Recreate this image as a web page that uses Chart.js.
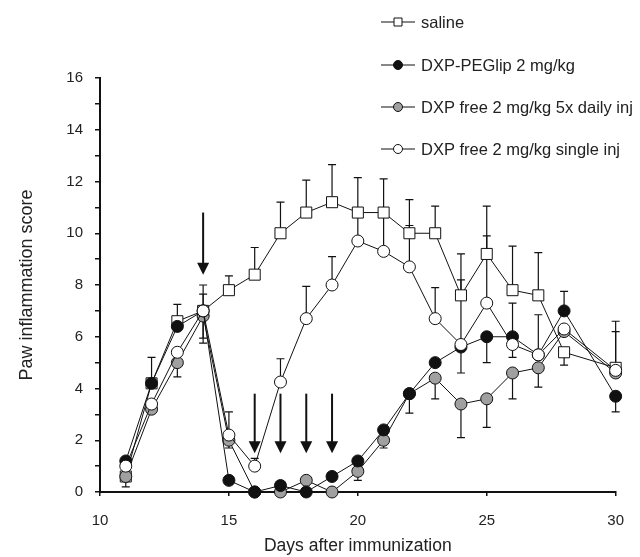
<!DOCTYPE html>
<html>
<head>
<meta charset="utf-8">
<script src="https://cdn.jsdelivr.net/npm/chart.js@4.4.1/dist/chart.umd.min.js"></script>
<style>
  html, body { margin: 0; padding: 0; background: #fff; }
  canvas { display: block; }
</style>
</head>
<body>
<canvas id="paw-chart" width="640" height="557"></canvas>
<script>
// Jours après immunisation
const days = [11, 12, 13, 14, 15, 16, 17, 18, 19, 20, 21, 22, 23, 24, 25, 26, 27, 28, 30];

// Séries (score moyen)
const saline = [0.6, 4.2, 6.6, 7.0, 7.8, 8.4, 10.0, 10.8, 11.2, 10.8, 10.8, 10.0, 10.0, 7.6, 9.2, 7.8, 7.6, 5.4, 4.8];
const pegLip = [1.2, 4.2, 6.4, 7.0, 0.45, 0, 0.25, 0, 0.6, 1.2, 2.4, 3.8, 5.0, 5.6, 6.0, 6.0, 5.3, 7.0, 3.7];
const freeDaily = [0.6, 3.2, 5.0, 6.8, 2.0, 0, 0, 0.45, 0, 0.8, 2.0, 3.8, 4.4, 3.4, 3.6, 4.6, 4.8, 6.2, 4.6];
const freeSingle = [1.0, 3.4, 5.4, 7.0, 2.2, 1.0, 4.25, 6.7, 8.0, 9.7, 9.3, 8.7, 6.7, 5.7, 7.3, 5.7, 5.3, 6.3, 4.7];

// Barres d'erreur (vers le haut / vers le bas)
const salineUp = [0, 1.0, 0.65, 1.0, 0.55, 1.05, 1.2, 1.25, 1.45, 1.35, 1.3, 1.3, 1.05, 1.6, 1.85, 1.7, 1.65, 0, 1.8];
const salineDown = [0.4, 0, 0, 0, 0, 0, 0, 0, 0, 0, 0, 0, 0, 0, 0, 0, 0, 0.5, 0];
const pegLipUp = [0, 0, 0, 0, 0, 0, 0, 0, 0, 0, 0, 0, 0, 0, 0, 1.3, 0, 0.75, 0];
const pegLipDown = [0, 0, 0, 1.25, 0, 0, 0, 0, 0, 0, 0, 0, 0, 1.0, 1.0, 0, 0, 0, 0.6];
const freeDailyUp = [0, 0, 0, 0, 0, 0, 0, 0, 0, 0, 0, 0, 0, 0, 0, 0, 0, 0, 0];
const freeDailyDown = [0, 0, 0.55, 0.85, 0.3, 0, 0, 0, 0, 0.35, 0.3, 0.75, 0.8, 1.3, 1.1, 1.0, 0.75, 0, 0];
const freeSingleUp = [0, 0, 0, 0.65, 0.9, 0.3, 0.9, 1.25, 1.1, 1.1, 1.5, 1.6, 1.2, 2.5, 2.6, 0, 1.55, 0, 1.5];
const freeSingleDown = [0, 0, 0, 0, 0, 0, 0, 0, 0, 0, 0, 0, 0, 0, 0, 0.5, 0, 0, 0];

// Flèches (injections)
const arrowDays = [14, 16, 17, 18, 19];
const arrowTop = [10.8, 3.8, 3.8, 3.8, 3.8];
const arrowTip = [8.4, 1.5, 1.5, 1.5, 1.5];

// Libellés
const seriesLabels = ["saline", "DXP-PEGlip 2 mg/kg", "DXP free 2 mg/kg 5x daily inj", "DXP free 2 mg/kg single inj"];
const yTickLabels = ["0", "2", "4", "6", "8", "10", "12", "14", "16"];

const FONT = "'Liberation Sans', Arial, Helvetica, sans-serif";
const TEXT = "#222";

function toPoints(values) {
  return days.map((d, i) => ({ x: d, y: values[i] }));
}

function makeDataset(label, values, up, down, style, fill, radius, order) {
  return {
    label: label,
    data: toPoints(values),
    errUp: up,
    errDown: down,
    borderColor: "#111",
    borderWidth: 1,
    pointStyle: style,
    pointRadius: radius,
    pointBackgroundColor: fill,
    pointBorderColor: "#111",
    pointBorderWidth: 1,
    clip: false,
    order: order,
  };
}

/**
 * Dessine les barres d'erreur sous les marqueurs
 */
const errorBars = {
  id: "errorBars",
  beforeDatasetsDraw(chart) {
    const ctx = chart.ctx;
    const y = chart.scales.y;
    const x = chart.scales.x;
    ctx.save();
    ctx.strokeStyle = "#111";
    ctx.lineWidth = 1.2;
    chart.data.datasets.forEach((ds) => {
      ds.data.forEach((p, i) => {
        const px = x.getPixelForValue(p.x);
        const py = y.getPixelForValue(p.y);
        [[ds.errUp[i], 1], [ds.errDown[i], -1]].forEach(([e, dir]) => {
          if (!e) return;
          const ey = y.getPixelForValue(p.y + dir * e);
          ctx.beginPath();
          ctx.moveTo(px, py);
          ctx.lineTo(px, ey);
          ctx.moveTo(px - 4, ey);
          ctx.lineTo(px + 4, ey);
          ctx.stroke();
        });
      });
    });
    ctx.restore();
  },
};

/**
 * Flèches et légende dessinées à la main
 */
const annotations = {
  id: "annotations",
  afterDraw(chart) {
    const ctx = chart.ctx;
    const x = chart.scales.x;
    const y = chart.scales.y;
    ctx.save();

    // Flèches
    ctx.fillStyle = "#111";
    ctx.strokeStyle = "#111";
    ctx.lineWidth = 2;
    arrowDays.forEach((d, i) => {
      const px = x.getPixelForValue(d);
      const top = y.getPixelForValue(arrowTop[i]);
      const tip = y.getPixelForValue(arrowTip[i]);
      ctx.beginPath();
      ctx.moveTo(px, top);
      ctx.lineTo(px, tip - 10);
      ctx.stroke();
      ctx.beginPath();
      ctx.moveTo(px - 6, tip - 12);
      ctx.lineTo(px + 6, tip - 12);
      ctx.lineTo(px, tip);
      ctx.closePath();
      ctx.fill();
    });

    // Légende
    const rows = [22, 65, 107, 149];
    ctx.font = "16.5px " + FONT;
    ctx.textBaseline = "middle";
    ctx.textAlign = "left";
    chart.data.datasets.forEach((ds, i) => {
      const ry = rows[i];
      ctx.strokeStyle = "#111";
      ctx.lineWidth = 1;
      ctx.beginPath();
      ctx.moveTo(381, ry);
      ctx.lineTo(415, ry);
      ctx.stroke();
      ctx.fillStyle = ds.pointBackgroundColor;
      ctx.beginPath();
      if (ds.pointStyle === "rect") {
        ctx.rect(394, ry - 4, 8, 8);
      } else {
        ctx.arc(398, ry, 4.5, 0, Math.PI * 2);
      }
      ctx.fill();
      ctx.stroke();
      ctx.fillStyle = TEXT;
      ctx.fillText(ds.label, 421, ry + 1);
    });
    ctx.restore();
  },
};

const ctx = document.getElementById("paw-chart").getContext("2d");

new Chart(ctx, {
  type: "line",
  data: {
    datasets: [
      makeDataset(seriesLabels[0], saline, salineUp, salineDown, "rect", "#fff", 7.8, 4),
      makeDataset(seriesLabels[1], pegLip, pegLipUp, pegLipDown, "circle", "#111", 6, 2),
      makeDataset(seriesLabels[2], freeDaily, freeDailyUp, freeDailyDown, "circle", "#a0a0a0", 6, 3),
      makeDataset(seriesLabels[3], freeSingle, freeSingleUp, freeSingleDown, "circle", "#fff", 6, 1),
    ],
  },
  options: {
    responsive: false,
    animation: false,
    devicePixelRatio: 1,
    layout: { padding: { top: 78, right: 11, left: 0, bottom: 0 } },
    plugins: {
      legend: { display: false },
      tooltip: { enabled: false },
    },
    scales: {
      x: {
        type: "linear",
        min: 10,
        max: 30,
        afterFit: (scale) => { scale.height = 65; },
        border: { display: true, color: "#111", width: 2 },
        grid: { drawOnChartArea: false, drawTicks: true, tickLength: 4, color: "#111", lineWidth: 1.5 },
        ticks: { stepSize: 5, padding: 16, color: TEXT, font: { family: FONT, size: 15 } },
        title: {
          display: true,
          text: "Days after immunization",
          color: TEXT,
          font: { family: FONT, size: 17.5 },
          padding: { top: 0, bottom: 0 },
        },
      },
      y: {
        type: "linear",
        min: 0,
        max: 16,
        afterFit: (scale) => { scale.width = 100; },
        border: { display: true, color: "#111", width: 2 },
        grid: { drawOnChartArea: false, drawTicks: true, tickLength: 5, color: "#111", lineWidth: 1.5 },
        ticks: {
          stepSize: 1,
          padding: 12,
          color: TEXT,
          font: { family: FONT, size: 15 },
          callback: (v) => (v % 2 === 0 ? yTickLabels[v / 2] : ""),
        },
        title: {
          display: true,
          text: "Paw inflammation score",
          color: TEXT,
          font: { family: FONT, size: 18 },
          padding: { top: 16, bottom: 0 },
        },
      },
    },
  },
  plugins: [errorBars, annotations],
});
</script>
</body>
</html>
